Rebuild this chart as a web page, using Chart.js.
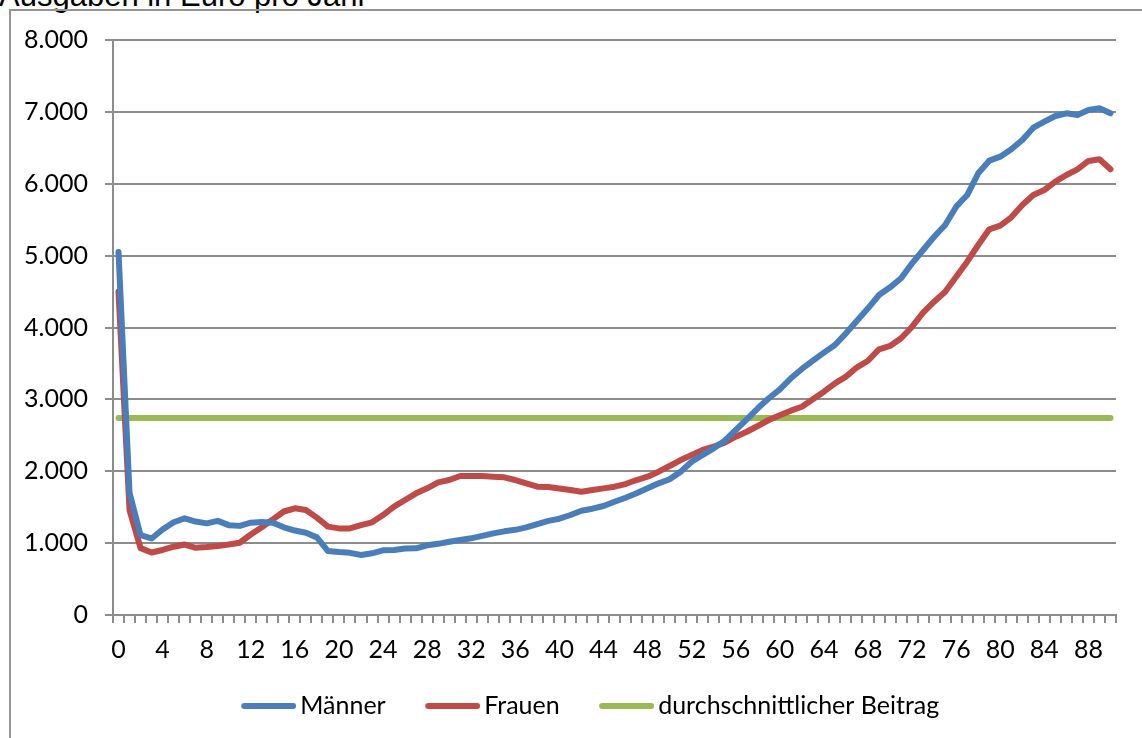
<!DOCTYPE html>
<html>
<head>
<meta charset="utf-8">
<title>Ausgaben in Euro pro Jahr</title>
<script src="https://cdn.jsdelivr.net/npm/chart.js@4/dist/chart.umd.min.js"></script>
<style>
    body {
        margin: 0;
        width: 1142px;
        height: 738px;
        overflow: hidden;
        background: #ffffff;
        position: relative;
    }
    .chart-title {
        position: absolute;
        left: -1px;
        top: -20px;
        font: 31px "Liberation Sans", Arial, sans-serif;
        line-height: 31px;
        white-space: nowrap;
        color: #000000;
    }
    .chart-frame {
        position: absolute;
        left: 9px;
        top: 9px;
        width: 1200px;
        height: 800px;
        border: 2px solid #959595;
    }
    #chart {
        position: absolute;
        left: 0;
        top: 0;
    }
</style>
</head>
<body>
<div class="chart-title">Ausgaben in Euro pro Jahr</div>
<div class="chart-frame"></div>
<canvas id="chart" width="1142" height="738"></canvas>
<script>
// Alter 0 bis 90
const ages = [
    '0', '1', '2', '3', '4', '5', '6', '7', '8', '9',
    '10', '11', '12', '13', '14', '15', '16', '17', '18', '19',
    '20', '21', '22', '23', '24', '25', '26', '27', '28', '29',
    '30', '31', '32', '33', '34', '35', '36', '37', '38', '39',
    '40', '41', '42', '43', '44', '45', '46', '47', '48', '49',
    '50', '51', '52', '53', '54', '55', '56', '57', '58', '59',
    '60', '61', '62', '63', '64', '65', '66', '67', '68', '69',
    '70', '71', '72', '73', '74', '75', '76', '77', '78', '79',
    '80', '81', '82', '83', '84', '85', '86', '87', '88', '89',
    '90'
];

const maenner = [
    5050, 1700, 1110, 1065, 1190, 1290, 1345, 1300, 1275, 1310,
    1250, 1240, 1285, 1295, 1285, 1220, 1175, 1145, 1080, 890,
    875, 865, 835, 858, 900, 905, 925, 928, 970, 990,
    1020, 1043, 1067, 1100, 1136, 1164, 1185, 1220, 1266, 1310,
    1340, 1391, 1451, 1479, 1516, 1576, 1632, 1693, 1762, 1832,
    1888, 1994, 2133, 2226, 2319, 2425, 2574, 2722, 2876, 3015,
    3140, 3293, 3423, 3538, 3650, 3756, 3919, 4095, 4267, 4452,
    4559, 4685, 4893, 5078, 5263, 5426, 5681, 5843, 6145, 6321,
    6377, 6479, 6609, 6780, 6864, 6943, 6980, 6957, 7026, 7050,
    6980
];

const frauen = [
    4500, 1460, 930, 870, 905, 950, 980, 935, 945, 960,
    980, 1005, 1120, 1220, 1330, 1440, 1485, 1460, 1355, 1230,
    1205, 1205, 1250, 1290, 1390, 1507, 1600, 1693, 1762, 1846,
    1878, 1934, 1934, 1934, 1925, 1915, 1878, 1832, 1785, 1780,
    1760, 1740, 1716, 1739, 1762, 1785, 1822, 1878, 1925, 1994,
    2073, 2156, 2226, 2296, 2342, 2398, 2481, 2550, 2630, 2713,
    2780, 2843, 2898, 3001, 3107, 3223, 3316, 3446, 3538, 3697,
    3743, 3850, 4011, 4206, 4359, 4498, 4707, 4916, 5148, 5366,
    5417, 5533, 5704, 5843, 5913, 6029, 6122, 6201, 6317, 6340,
    6201
];

const durchschnittlicherBeitrag = 2740;

const yTicks = [0, 1000, 2000, 3000, 4000, 5000, 6000, 7000, 8000];

const gridColor = '#8c8c8c';
const textFont = { family: 'Lato, "Open Sans", sans-serif', size: 25 };

function formatThousands(value) {
    return String(value).replace(/\B(?=(\d{3})+(?!\d))/g, '.');
}

// kurze Linie als Legendensymbol, rechtsbuendig im Bild -> dicht vor dem Text
function legendLine(color) {
    const canvas = document.createElement('canvas');
    canvas.width = 76;
    canvas.height = 8;
    const ctx = canvas.getContext('2d');
    ctx.strokeStyle = color;
    ctx.lineWidth = 6;
    ctx.lineCap = 'round';
    ctx.beginPath();
    ctx.moveTo(24, 4);
    ctx.lineTo(73, 4);
    ctx.stroke();
    return canvas;
}

function lineDataset(label, data, color) {
    return {
        label: label,
        data: data,
        borderColor: color,
        backgroundColor: color,
        borderWidth: 6,
        borderCapStyle: 'round',
        borderJoinStyle: 'round',
        pointRadius: 0,
        pointHoverRadius: 0,
        pointStyle: legendLine(color),
        tension: 0,
        fill: false
    };
}

// Legende etwas nach rechts, wie in der Vorlage
const shiftLegend = {
    id: 'shiftLegend',
    afterLayout(chart) {
        chart.legend.left += 26;
        chart.legend.right += 26;
    }
};

new Chart(document.getElementById('chart'), {
    type: 'line',
    data: {
        labels: ages,
        datasets: [
            lineDataset('Männer', maenner, '#4A7EBB'),
            lineDataset('Frauen', frauen, '#BE4B48'),
            lineDataset('durchschnittlicher Beitrag', [
                { x: ages[0], y: durchschnittlicherBeitrag },
                { x: ages[ages.length - 1], y: durchschnittlicherBeitrag }
            ], '#98B954')
        ]
    },
    plugins: [shiftLegend],
    options: {
        responsive: false,
        animation: false,
        layout: {
            padding: { left: 0, right: 26, top: 40, bottom: 9.5 }
        },
        plugins: {
            title: { display: false },
            tooltip: { enabled: false },
            legend: {
                display: true,
                position: 'bottom',
                labels: {
                    usePointStyle: true,
                    pointStyleWidth: 59,
                    padding: 27,
                    color: '#000000',
                    font: textFont
                }
            }
        },
        scales: {
            x: {
                type: 'category',
                offset: true,
                afterFit: (scale) => { scale.height = 51.5; },
                grid: {
                    offset: true,
                    drawOnChartArea: false,
                    drawTicks: true,
                    tickLength: 8,
                    color: gridColor,
                    lineWidth: 2
                },
                border: { display: true, color: gridColor, width: 2 },
                ticks: {
                    autoSkip: false,
                    maxRotation: 0,
                    minRotation: 0,
                    padding: 12,
                    color: '#000000',
                    font: textFont,
                    callback: (value, index) => index % 4 === 0 ? ages[index] : ''
                }
            },
            y: {
                min: yTicks[0],
                max: yTicks[yTicks.length - 1],
                afterFit: (scale) => { scale.width = 113; },
                afterBuildTicks: (scale) => { scale.ticks = yTicks.map((v) => ({ value: v })); },
                grid: {
                    color: gridColor,
                    lineWidth: 2,
                    tickLength: 8
                },
                border: { display: true, color: gridColor, width: 2 },
                ticks: {
                    padding: 17,
                    color: '#000000',
                    font: textFont,
                    callback: (value) => formatThousands(value)
                }
            }
        }
    }
});
</script>
</body>
</html>
